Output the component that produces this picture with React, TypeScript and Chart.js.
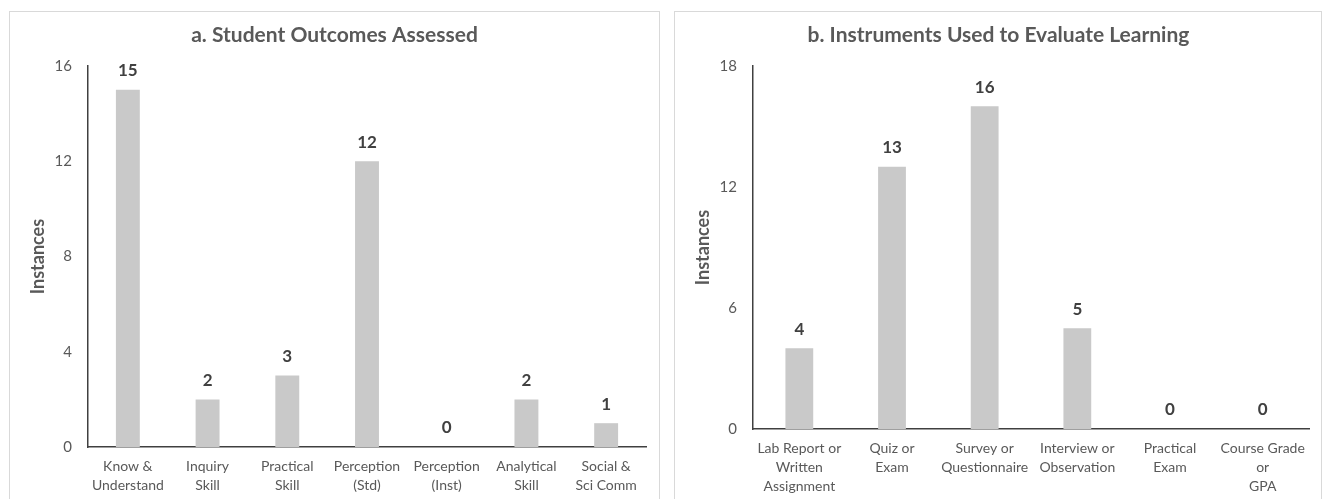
import React, { useEffect, useRef } from "react";
import { Chart, registerables } from "chart.js";

Chart.register(...registerables);

const FONT = "Lato, 'Open Sans', sans-serif";
const BAR_COLOR = "#c9c9c9";
const TEXT_COLOR = "#595959";
const LABEL_COLOR = "#404040";
const AXIS_COLOR = "#404040";

const titleA = "a. Student Outcomes Assessed";
const categoriesA: string[][] = [
  ["Know &", "Understand"],
  ["Inquiry", "Skill"],
  ["Practical", "Skill"],
  ["Perception", "(Std)"],
  ["Perception", "(Inst)"],
  ["Analytical", "Skill"],
  ["Social &", "Sci Comm"],
];
const valuesA = [15, 2, 3, 12, 0, 2, 1];
const yMaxA = 16;
const yStepA = 4;

const titleB = "b. Instruments Used to Evaluate Learning";
const categoriesB: string[][] = [
  ["Lab Report or", "Written", "Assignment"],
  ["Quiz or", "Exam"],
  ["Survey or", "Questionnaire"],
  ["Interview or", "Observation"],
  ["Practical", "Exam"],
  ["Course Grade", "or", "GPA"],
];
const valuesB = [4, 13, 16, 5, 0, 0];
const yMaxB = 18;
const yStepB = 6;

const yTitle = "Instances";

const dataLabelPlugin = {
  id: "dataLabels",
  afterDatasetsDraw(chart: any) {
    const ctx = chart.ctx;
    const meta = chart.getDatasetMeta(0);
    const data = chart.data.datasets[0].data;
    ctx.save();
    ctx.fillStyle = LABEL_COLOR;
    ctx.font = `bold 17px ${FONT}`;
    ctx.textAlign = "center";
    ctx.textBaseline = "middle";
    meta.data.forEach((bar: any, i: number) => {
      ctx.fillText(String(data[i]), bar.x, bar.y - 19);
    });
    ctx.restore();
  },
};

type PanelProps = {
  left: number;
  width: number;
  title: string;
  labels: string[][];
  values: number[];
  yMax: number;
  yStep: number;
  padLeft: number;
  padRight: number;
  yWidth: number;
  xHeight: number;
};

function BarPanel(p: PanelProps) {
  const ref = useRef<HTMLCanvasElement | null>(null);
  const innerW = p.width - 2;
  const innerH = 487;
  useEffect(() => {
    if (!ref.current) return;
    const chart = new Chart(ref.current, {
      type: "bar",
      data: {
        labels: p.labels,
        datasets: [
          {
            data: p.values,
            backgroundColor: BAR_COLOR,
            barPercentage: 0.3,
            categoryPercentage: 1,
          },
        ],
      },
      options: {
        animation: false,
        responsive: false,
        maintainAspectRatio: false,
        layout: { padding: { left: p.padLeft, right: p.padRight, top: 0, bottom: 0 } },
        plugins: {
          legend: { display: false },
          tooltip: { enabled: false },
          title: {
            display: true,
            text: p.title,
            color: TEXT_COLOR,
            font: { family: FONT, size: 21, weight: "bold" },
            padding: { top: 10.4, bottom: 18.4 },
          },
        },
        scales: {
          x: {
            grid: { display: false, drawTicks: false },
            border: { display: true, color: AXIS_COLOR, width: 1.5 },
            ticks: {
              color: TEXT_COLOR,
              font: { family: FONT, size: 14, lineHeight: 1.36 },
              padding: 10,
              maxRotation: 0,
              autoSkip: false,
            },
            afterFit: (s: any) => {
              s.height = p.xHeight;
            },
          },
          y: {
            min: 0,
            max: p.yMax,
            grid: { display: false, drawTicks: false },
            border: { display: true, color: AXIS_COLOR, width: 1.5 },
            ticks: {
              stepSize: p.yStep,
              color: TEXT_COLOR,
              font: { family: FONT, size: 15 },
              padding: 16,
            },
            title: {
              display: true,
              text: yTitle,
              color: TEXT_COLOR,
              font: { family: FONT, size: 18, weight: "bold" },
              padding: { top: 4, bottom: 4 },
            },
            afterFit: (s: any) => {
              s.width = p.yWidth;
            },
          },
        },
      } as any,
      plugins: [dataLabelPlugin],
    });
    return () => chart.destroy();
  }, []);
  return (
    <div
      style={{
        position: "absolute",
        left: p.left,
        top: 11,
        width: p.width,
        height: 500,
        boxSizing: "border-box",
        border: "1px solid #d9d9d9",
        background: "#fff",
      }}
    >
      <canvas ref={ref} width={innerW} height={innerH} style={{ display: "block", width: innerW, height: innerH }} />
    </div>
  );
}

export default function App() {
  return (
    <div
      style={{
        position: "fixed",
        left: 0,
        top: 0,
        width: 1322,
        height: 499,
        overflow: "hidden",
        background: "#fff",
      }}
    >
      <BarPanel
        left={9}
        width={651}
        title={titleA}
        labels={categoriesA}
        values={valuesA}
        yMax={yMaxA}
        yStep={yStepA}
        padLeft={13}
        padRight={13}
        yWidth={65}
        xHeight={52}
      />
      <BarPanel
        left={674}
        width={648}
        title={titleB}
        labels={categoriesB}
        values={valuesB}
        yMax={yMaxB}
        yStep={yStepB}
        padLeft={13}
        padRight={12}
        yWidth={65}
        xHeight={70}
      />
    </div>
  );
}
